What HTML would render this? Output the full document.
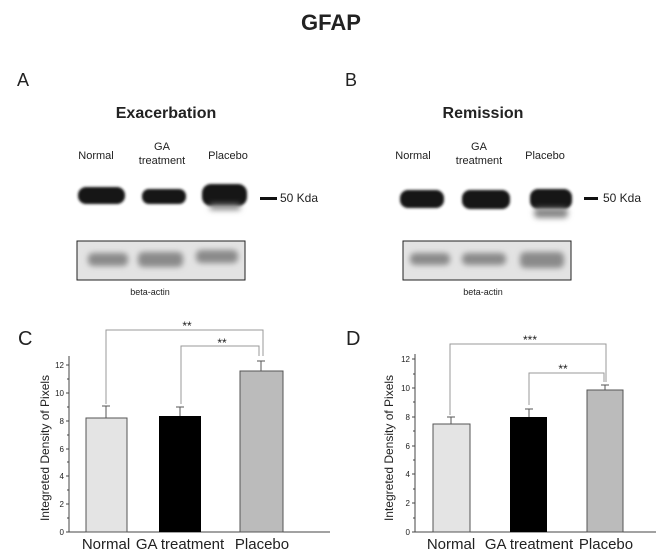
<!DOCTYPE html>
<html><head><meta charset="utf-8"><style>
body{margin:0;background:#fff}
svg{display:block}
text{font-family:"Liberation Sans",Arial,sans-serif;fill:#222}
</style></head><body>
<svg width="662" height="557" viewBox="0 0 662 557" xmlns="http://www.w3.org/2000/svg">
<defs>
<filter id="bl" x="-20%" y="-50%" width="140%" height="200%"><feGaussianBlur stdDeviation="1.3"/></filter>
<filter id="bl2" x="-20%" y="-50%" width="140%" height="200%"><feGaussianBlur stdDeviation="3"/></filter>
</defs>
<text x="331" y="30" font-size="22" font-weight="bold" text-anchor="middle">GFAP</text>
<text x="17" y="86" font-size="18">A</text>
<text x="345" y="86" font-size="18">B</text>
<text x="166" y="118" font-size="16" font-weight="bold" text-anchor="middle">Exacerbation</text>
<text x="483" y="118" font-size="16" font-weight="bold" text-anchor="middle">Remission</text>
<g font-size="11" text-anchor="middle">
<text x="96" y="159">Normal</text><text x="162" y="150">GA</text><text x="162" y="164">treatment</text><text x="228" y="159">Placebo</text>
<text x="413" y="159">Normal</text><text x="479" y="150">GA</text><text x="479" y="164">treatment</text><text x="545" y="159">Placebo</text>
</g>
<g filter="url(#bl)" fill="#151515">
<rect x="78" y="187" width="47" height="17" rx="8"/>
<rect x="142" y="189" width="44" height="15" rx="7"/>
<rect x="202" y="184" width="45" height="22" rx="9"/>
<rect x="400" y="190" width="44" height="18" rx="8"/>
<rect x="462" y="190" width="48" height="19" rx="8"/>
<rect x="530" y="189" width="42" height="20" rx="8"/>
</g>
<g filter="url(#bl2)" fill="#888"><rect x="534" y="208" width="34" height="10" rx="4"/><rect x="210" y="204" width="30" height="6"/></g>
<rect x="260" y="197" width="17" height="3" fill="#111"/>
<text x="280" y="202" font-size="12">50 Kda</text>
<rect x="584" y="197" width="14" height="3" fill="#111"/>
<text x="603" y="202" font-size="12">50 Kda</text>
<rect x="77" y="241" width="168" height="39" fill="#e3e3e3" stroke="#222" stroke-width="1"/>
<rect x="403" y="241" width="168" height="39" fill="#e3e3e3" stroke="#222" stroke-width="1"/>
<g filter="url(#bl2)" fill="#8a8a8a">
<rect x="88" y="253" width="40" height="13" rx="5"/><rect x="138" y="252" width="45" height="15" rx="5"/><rect x="196" y="250" width="42" height="13" rx="5"/>
<rect x="410" y="253" width="40" height="12" rx="5"/><rect x="462" y="253" width="44" height="12" rx="5"/><rect x="520" y="252" width="44" height="16" rx="5"/>
</g>
<text x="150" y="295" font-size="9" text-anchor="middle">beta-actin</text>
<text x="483" y="295" font-size="9" text-anchor="middle">beta-actin</text>

<text x="18" y="345" font-size="20">C</text>
<g stroke="#444" stroke-width="1" fill="none">
<line x1="69" y1="356" x2="69" y2="532"/><line x1="69" y1="532" x2="330" y2="532"/>
<path d="M66 532h3M66 504h3M66 476h3M66 449h3M66 421h3M66 393h3M66 365h3M67 518h2M67 490h2M67 462h2M67 435h2M67 407h2M67 379h2"/>
</g>
<g font-size="8" text-anchor="end"><text x="64" y="535">0</text><text x="64" y="507">2</text><text x="64" y="479">4</text><text x="64" y="452">6</text><text x="64" y="424">8</text><text x="64" y="396">10</text><text x="64" y="368">12</text></g>
<text transform="translate(49,448) rotate(-90)" font-size="12" text-anchor="middle">Integreted Density of Pixels</text>
<g stroke="#555" stroke-width="1">
<line x1="106" y1="406" x2="106" y2="418"/><line x1="102" y1="406" x2="110" y2="406"/>
<line x1="180" y1="407" x2="180" y2="416"/><line x1="176" y1="407" x2="184" y2="407"/>
<line x1="261" y1="361" x2="261" y2="371"/><line x1="257" y1="361" x2="265" y2="361"/>
</g>
<rect x="86" y="418" width="41" height="114" fill="#e4e4e4" stroke="#555"/>
<rect x="159" y="416" width="42" height="116" fill="#000"/>
<rect x="240" y="371" width="43" height="161" fill="#bbb" stroke="#555"/>
<g stroke="#999" fill="none"><path d="M106 404V330H263V356"/><path d="M181 404V346H259V356"/></g>
<text x="187" y="330" font-size="12" text-anchor="middle">**</text>
<text x="222" y="347" font-size="12" text-anchor="middle">**</text>
<g font-size="15" text-anchor="middle"><text x="106" y="549">Normal</text><text x="180" y="549">GA treatment</text><text x="262" y="549">Placebo</text></g>

<text x="346" y="345" font-size="20">D</text>
<g stroke="#444" stroke-width="1" fill="none">
<line x1="415" y1="354" x2="415" y2="532"/><line x1="415" y1="532" x2="656" y2="532"/>
<path d="M412 532h3M412 503h3M412 474h3M412 446h3M412 417h3M412 388h3M412 359h3M413 518h2M413 489h2M413 460h2M413 431h2M413 402h2M413 374h2"/>
</g>
<g font-size="8" text-anchor="end"><text x="410" y="535">0</text><text x="410" y="506">2</text><text x="410" y="477">4</text><text x="410" y="449">6</text><text x="410" y="420">8</text><text x="410" y="391">10</text><text x="410" y="362">12</text></g>
<text transform="translate(393,448) rotate(-90)" font-size="12" text-anchor="middle">Integreted Density of Pixels</text>
<g stroke="#555" stroke-width="1">
<line x1="451" y1="417" x2="451" y2="424"/><line x1="447" y1="417" x2="455" y2="417"/>
<line x1="529" y1="409" x2="529" y2="417"/><line x1="525" y1="409" x2="533" y2="409"/>
<line x1="605" y1="385" x2="605" y2="390"/><line x1="601" y1="385" x2="609" y2="385"/>
</g>
<rect x="433" y="424" width="37" height="108" fill="#e4e4e4" stroke="#555"/>
<rect x="510" y="417" width="37" height="115" fill="#000"/>
<rect x="587" y="390" width="36" height="142" fill="#bbb" stroke="#555"/>
<g stroke="#999" fill="none"><path d="M450 415V344H606V382"/><path d="M529 405V373H604V382"/></g>
<text x="530" y="344" font-size="12" text-anchor="middle">***</text>
<text x="563" y="373" font-size="12" text-anchor="middle">**</text>
<g font-size="15" text-anchor="middle"><text x="451" y="549">Normal</text><text x="529" y="549">GA treatment</text><text x="606" y="549">Placebo</text></g>
</svg>
</body></html>
